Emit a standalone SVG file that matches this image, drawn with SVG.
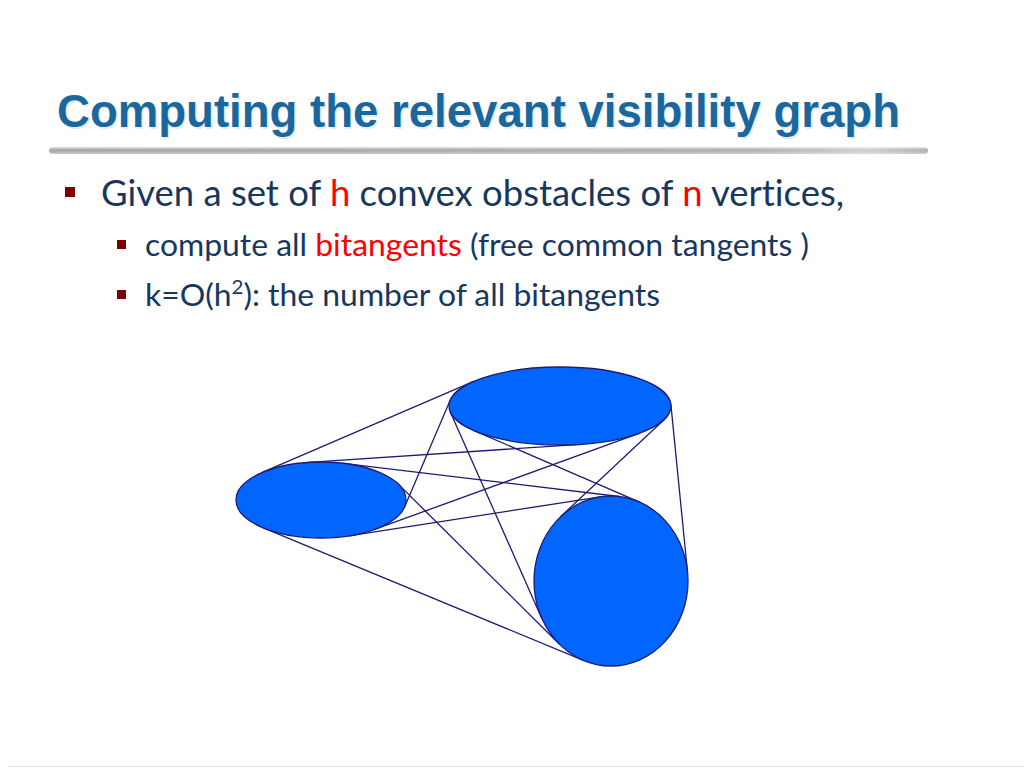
<svg xmlns="http://www.w3.org/2000/svg" width="1024" height="768" viewBox="0 0 1024 768">
  <defs>
    <linearGradient id="barV" x1="0" y1="0" x2="0" y2="1">
      <stop offset="0" stop-color="#e4e4e4"/>
      <stop offset="0.45" stop-color="#a2a2a2"/>
      <stop offset="1" stop-color="#c8c8c8"/>
    </linearGradient>
    <linearGradient id="barH" x1="0" y1="0" x2="1" y2="0">
      <stop offset="0" stop-color="#ffffff" stop-opacity="0"/>
      <stop offset="0.8" stop-color="#ffffff" stop-opacity="0.1"/>
      <stop offset="0.93" stop-color="#ffffff" stop-opacity="0.45"/>
      <stop offset="1" stop-color="#ffffff" stop-opacity="0.1"/>
    </linearGradient>
    <style>
      .title { font-family: "Liberation Sans", Arial, sans-serif; font-weight: bold; font-size: 46px; fill: #1a679e; }
      .body { font-family: Lato, "Open Sans", sans-serif; fill: #17375e; font-variant-ligatures: none; }
      .red { fill: #ff0000; }
      .bullet { fill: #7f0000; }
      .edge { stroke: #1c1c72; stroke-width: 1.3; fill: none; stroke-linecap: round; }
      .obst { fill: #0066ff; stroke: #1c1c72; stroke-width: 1.3; }
    </style>
  </defs>
  <rect x="0" y="0" width="1024" height="768" fill="#ffffff"/>

  <g id="title">
    <text class="title" x="57" y="127" fill-opacity="0.15" transform="translate(1.5,1.5)" textLength="843" lengthAdjust="spacingAndGlyphs">Computing the relevant visibility graph</text>
    <text class="title" x="57" y="127" textLength="843" lengthAdjust="spacingAndGlyphs">Computing the relevant visibility graph</text>
  </g>

  <g id="separator">
    <rect x="49" y="147" width="879" height="7" rx="3.5" fill="url(#barV)"/>
    <rect x="49" y="147" width="879" height="7" rx="3.5" fill="url(#barH)"/>
  </g>

  <g id="bullets">
    <rect class="bullet" x="65" y="187" width="10" height="10"/>
    <text class="body" x="101" y="206" font-size="36" textLength="743" lengthAdjust="spacingAndGlyphs">Given a set of <tspan class="red">h</tspan> convex obstacles of <tspan class="red">n</tspan> vertices,</text>
    <rect class="bullet" x="117" y="240" width="9" height="9"/>
    <text class="body" x="145" y="256" font-size="31" textLength="664" lengthAdjust="spacingAndGlyphs">compute all <tspan class="red">bitangents</tspan> (free common tangents )</text>
    <rect class="bullet" x="117" y="290" width="9" height="9"/>
    <text class="body" x="145" y="306" font-size="31" textLength="515" lengthAdjust="spacingAndGlyphs">k=O(h<tspan font-size="20" baseline-shift="super">2</tspan>): the number of all bitangents</text>
  </g>

  <g id="connectors">
    <line class="edge" x1="261.7" y1="472.7" x2="473.7" y2="381.4"/>
    <line class="edge" x1="374.6" y1="529.4" x2="639.7" y2="433.1"/>
    <line class="edge" x1="308.5" y1="462.4" x2="580.6" y2="444.3"/>
    <line class="edge" x1="404.5" y1="507.2" x2="450.2" y2="400.2"/>
    <line class="edge" x1="263.3" y1="527.9" x2="584.0" y2="660.6"/>
    <line class="edge" x1="343.1" y1="463.3" x2="619.3" y2="496.5"/>
    <line class="edge" x1="398.5" y1="484.4" x2="559.5" y2="644.2"/>
    <line class="edge" x1="348.9" y1="535.9" x2="600.3" y2="496.8"/>
    <line class="edge" x1="670.9" y1="404.6" x2="687.5" y2="571.7"/>
    <line class="edge" x1="450.3" y1="412.0" x2="541.8" y2="618.4"/>
    <line class="edge" x1="474.0" y1="430.6" x2="639.0" y2="501.8"/>
    <line class="edge" x1="664.0" y1="419.7" x2="561.1" y2="516.2"/>
  </g>

  <g id="obstacle-left">
    <ellipse class="obst" cx="321" cy="500" rx="85" ry="38"/>
  </g>
  <g id="obstacle-top">
    <ellipse class="obst" cx="560" cy="406" rx="111" ry="39"/>
  </g>
  <g id="obstacle-bottom">
    <ellipse class="obst" cx="611" cy="581" rx="77" ry="85"/>
  </g>

  <line x1="8" y1="766.5" x2="1024" y2="766.5" stroke="#e6e6e6" stroke-width="1"/>
</svg>
